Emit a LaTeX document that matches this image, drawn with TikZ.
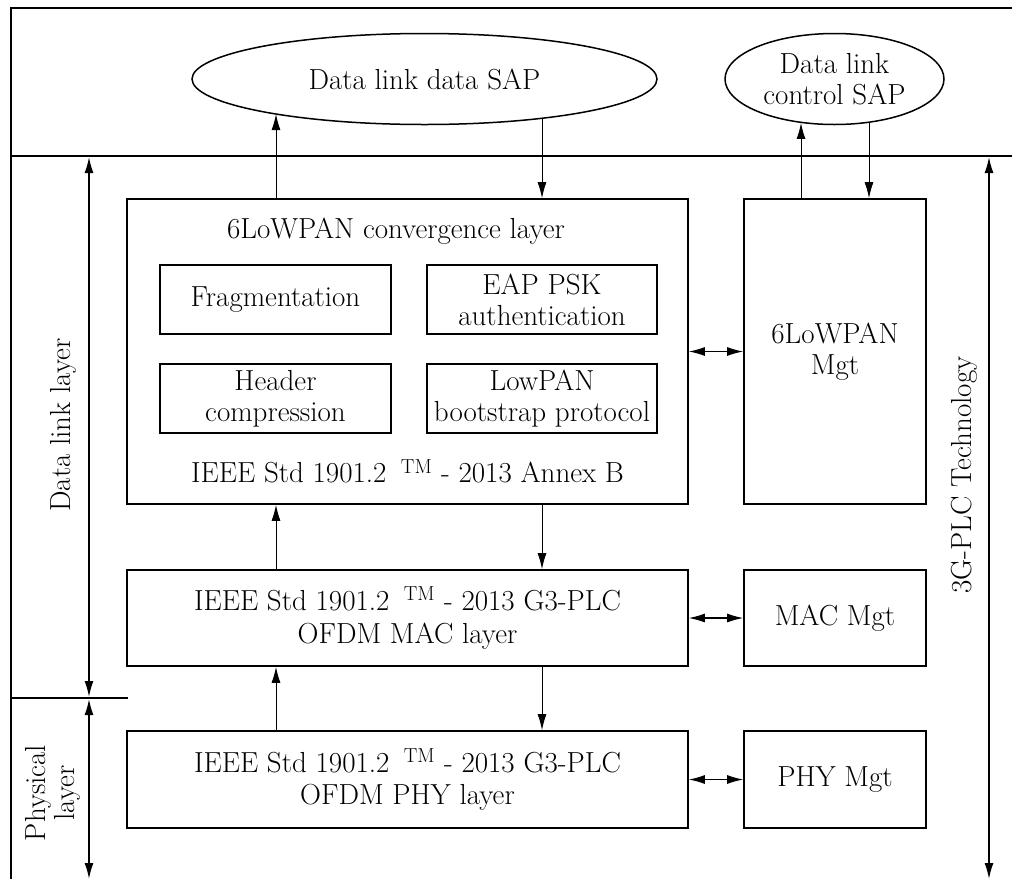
\documentclass[tikz,border=0pt]{standalone}
\usepackage{tikz}
\usetikzlibrary{arrows.meta,shapes.geometric}

\begin{document}
\begin{tikzpicture}[x=1pt,y=-1pt,
        every node/.style={font=\fontsize{29}{33}\selectfont},
        box/.style={draw,line width=1.7pt,inner sep=0pt,align=center},
        subbox/.style={draw,line width=1.5pt,inner sep=0pt,align=center,
            minimum height=69pt},
        sap/.style={draw,ellipse,line width=1.5pt,inner sep=0pt,align=center,
            minimum height=91pt},
        link/.style={line width=1pt,-{Latex[length=16pt,width=9pt]}},
        both/.style={line width=1.1pt,{Latex[length=16pt,width=9pt]}-{Latex[length=16pt,width=9pt]}},
        span/.style={line width=1.6pt,{Latex[length=16pt,width=9pt]}-{Latex[length=16pt,width=9pt]}}]
    \useasboundingbox (0,0) rectangle (1012,879);

    % frame and layer borders
    \draw[line width=1.7pt] (1012,8) -- (11,8) -- (11,879);
    \draw[line width=1.7pt] (11,156) -- (1012,156);
    \draw[line width=1.7pt] (11,698) -- (128,698);

    % service access points
    \node[sap,minimum width=465pt] (dsap) at (424.5,79) {Data link data SAP};
    \node[sap,minimum width=219pt,font=\fontsize{29}{31}\selectfont] (csap) at (834.5,79) {Data link\\control SAP};

    % 6LoWPAN layer
    \node[box,minimum width=561pt,minimum height=305pt] (conv) at (407.5,351.5) {};
    \node (convtitle) at (396,231) {6LoWPAN convergence layer};
    \node[subbox,minimum width=231pt] (frag) at (275.5,299.5) {Fragmentation};
    \node[subbox,minimum width=230pt,font=\fontsize{29}{31}\selectfont] (eap) at (542,299.5) {EAP PSK\\authentication};
    \node[subbox,minimum width=231pt,font=\fontsize{29}{31}\selectfont] (hdr) at (275.5,398.5) {Header\\compression};
    \node[subbox,minimum width=230pt,font=\fontsize{29}{31}\selectfont] (boot) at (542,398.5) {LowPAN\\bootstrap protocol};
    \node (convstd) at (407.5,471) {IEEE Std 1901.2\enspace\textsuperscript{TM} - 2013 Annex B};
    \node[box,minimum width=182pt,minimum height=305pt,font=\fontsize{29}{31}\selectfont] (mgt6) at (835,351.5) {6LoWPAN\\Mgt};

    % MAC and PHY
    \node[box,minimum width=561pt,minimum height=96pt] (mac) at (407.5,618) {IEEE Std 1901.2\enspace\textsuperscript{TM} - 2013 G3-PLC\\OFDM MAC layer};
    \node[box,minimum width=182pt,minimum height=96pt] (macmgt) at (835,618) {MAC Mgt};
    \node[box,minimum width=561pt,minimum height=97pt,font=\fontsize{29}{32}\selectfont] (phy) at (407.5,779.5) {IEEE Std 1901.2\enspace\textsuperscript{TM} - 2013 G3-PLC\\OFDM PHY layer};
    \node[box,minimum width=182pt,minimum height=97pt] (phymgt) at (835,779.5) {PHY Mgt};

    % side labels
    \node[rotate=90] (dllabel) at (63,425) {Data link layer};
    \node[rotate=90,align=center,font=\fontsize{29}{29}\selectfont] (phlabel) at (53,793) {Physical\\layer};
    \node[rotate=90] (techlabel) at (964,475) {3G-PLC Technology};

    % columns of the vertical arrows
    \coordinate (upx) at (276,0);
    \coordinate (dnx) at (542,0);
    \coordinate (cupx) at (801,0);
    \coordinate (cdnx) at (869,0);

    \draw[link] (conv.north -| upx) -- (dsap.193.3 -| upx);
    \draw[link] (dsap.341.5 -| dnx) -- (conv.north -| dnx);
    \draw[link] (mgt6.north -| cupx) -- (csap.232.3 -| cupx);
    \draw[link] (csap.308.6 -| cdnx) -- (mgt6.north -| cdnx);
    \draw[link] (mac.north -| upx) -- (conv.south -| upx);
    \draw[link] (conv.south -| dnx) -- (mac.north -| dnx);
    \draw[link] (phy.north -| upx) -- (mac.south -| upx);
    \draw[link] (mac.south -| dnx) -- (phy.north -| dnx);

    \draw[both] (conv) -- (mgt6);
    \draw[both] (mac) -- (macmgt);
    \draw[both] (phy) -- (phymgt);

    % layer spans
    \coordinate (dltop) at (89,157);
    \coordinate (dlbot) at (89,697);
    \coordinate (phtop) at (89,699);
    \coordinate (phbot) at (89,879);
    \coordinate (rtop) at (989,157);
    \coordinate (rbot) at (989,879);
    \draw[span] (dltop) -- (dlbot);
    \draw[span] (phtop) -- (phbot);
    \draw[span] (rtop) -- (rbot);
\end{tikzpicture}
\end{document}
